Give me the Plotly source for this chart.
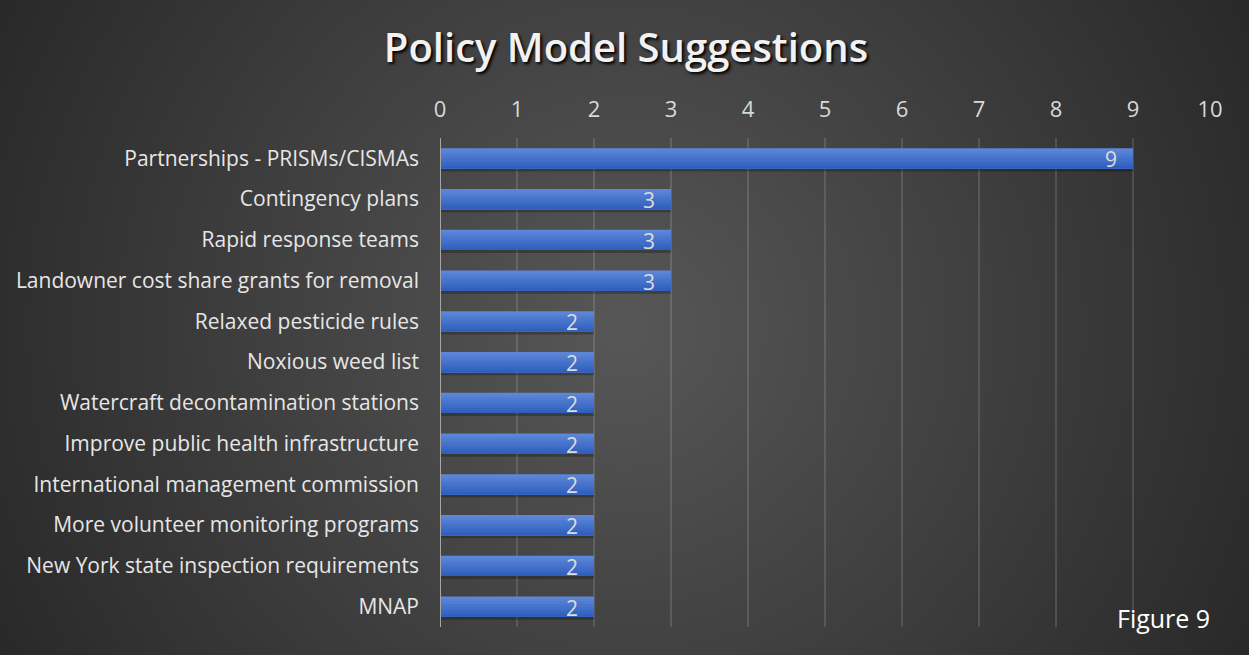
import base64
import plotly.graph_objects as go

# Survey answers: policy models suggested and how many respondents named each
categories = [
    "Partnerships - PRISMs/CISMAs",
    "Contingency plans",
    "Rapid response teams",
    "Landowner cost share grants for removal",
    "Relaxed pesticide rules",
    "Noxious weed list",
    "Watercraft decontamination stations",
    "Improve public health infrastructure",
    "International management commission",
    "More volunteer monitoring programs",
    "New York state inspection requirements",
    "MNAP",
]
counts = [9, 3, 3, 3, 2, 2, 2, 2, 2, 2, 2, 2]
x_ticks = list(range(0, 11))

W, H = 1249, 655
M_L, M_R, M_T, M_B = 440, 39, 138, 28
plot_w = W - M_L - M_R
plot_h = H - M_T - M_B

# Radial dark-grey backdrop as an SVG image
svg = f"""<svg xmlns='http://www.w3.org/2000/svg' width='{W}' height='{H}'>
<defs><radialGradient id='g' cx='50%' cy='50%' r='62%' gradientUnits='objectBoundingBox'
 gradientTransform='translate(0.5,0.5) scale(1,1.9) translate(-0.5,-0.5)'>
<stop offset='0' stop-color='#575757'/><stop offset='1' stop-color='#242424'/></radialGradient></defs>
<rect width='{W}' height='{H}' fill='url(#g)'/></svg>"""
bg_uri = "data:image/svg+xml;base64," + base64.b64encode(svg.encode()).decode()

BAR_W = 0.5
fig = go.Figure()

# Soft shadow just under each bar
fig.add_trace(go.Bar(
    x=counts, y=categories, orientation="h",
    width=0.09, offset=BAR_W / 2 - 0.02,
    marker=dict(color="rgba(0,0,0,0.25)", line=dict(width=0)),
    hoverinfo="skip",
))

# Bars shaded from light (top) to dark (bottom): each layer covers the
# remaining lower part of the bar, so there are no seams between layers
top_rgb = (0x5c, 0x87, 0xd8)
bot_rgb = (0x30, 0x60, 0xbd)
n_layers = 8
step = BAR_W / n_layers
for i in range(n_layers):
    t = i / (n_layers - 1)
    rgb = tuple(round(a + (b - a) * t) for a, b in zip(top_rgb, bot_rgb))
    fig.add_trace(go.Bar(
        x=counts, y=categories, orientation="h",
        width=BAR_W - i * step, offset=-BAR_W / 2 + i * step,
        marker=dict(color="rgb(%d,%d,%d)" % rgb, line=dict(width=0)),
        hoverinfo="x+y" if i == 0 else "skip",
    ))

# Value labels placed just inside the end of each bar
for cat, v in zip(categories, counts):
    fig.add_annotation(
        x=v, y=cat, xref="x", yref="y", text=str(v), showarrow=False,
        xanchor="right", xshift=-14, yshift=-1,
        font=dict(family="Open Sans", size=21, color="#dcdcdc"),
    )

fig.add_annotation(
    x=(1163 - M_L) / plot_w, y=(H - M_B - 618) / plot_h,
    xref="paper", yref="paper", text="Figure 9", showarrow=False,
    xanchor="center", yanchor="middle",
    font=dict(family="Open Sans", size=25, color="#ffffff"),
)

fig.update_layout(
    width=W, height=H,
    margin=dict(l=M_L, r=M_R, t=M_T, b=M_B, pad=0),
    paper_bgcolor="#2e2e2e",
    plot_bgcolor="rgba(0,0,0,0)",
    showlegend=False,
    barmode="overlay",
    title=dict(
        text="Policy Model Suggestions",
        x=626 / W, xanchor="center", xref="container",
        y=1 - 48 / H, yanchor="middle",
        font=dict(family="Open Sans", size=40, weight=600, color="#f2f2f2",
                  shadow="2px 2px 3px #000000"),
    ),
    font=dict(family="Open Sans", color="#d9d9d9"),
    images=[dict(
        source=bg_uri, xref="paper", yref="paper",
        x=-M_L / plot_w, y=1 + M_T / plot_h,
        sizex=W / plot_w, sizey=H / plot_h,
        xanchor="left", yanchor="top", sizing="stretch", layer="below",
    )],
    xaxis=dict(
        side="top", range=[0, 10], tickvals=x_ticks,
        ticktext=[str(t) for t in x_ticks],
        showgrid=True, gridcolor="rgba(255,255,255,0.13)", gridwidth=1.5,
        zeroline=False, showline=False, ticks="",
        ticklabelstandoff=16,
        tickfont=dict(family="Open Sans", size=22, color="#d9d9d9"),
        fixedrange=True,
    ),
    yaxis=dict(
        categoryorder="array", categoryarray=categories,
        autorange="reversed",
        showgrid=False, zeroline=False, showline=False, ticks="",
        ticklabelstandoff=20,
        tickfont=dict(family="Open Sans", size=21, color="#e6e6e6"),
        fixedrange=True,
    ),
)

# Baseline at zero
fig.add_shape(type="line", xref="x", yref="paper", x0=0, x1=0, y0=0, y1=1,
              line=dict(color="#a6a6a6", width=2), layer="above")

fig.write_html("out.html")
